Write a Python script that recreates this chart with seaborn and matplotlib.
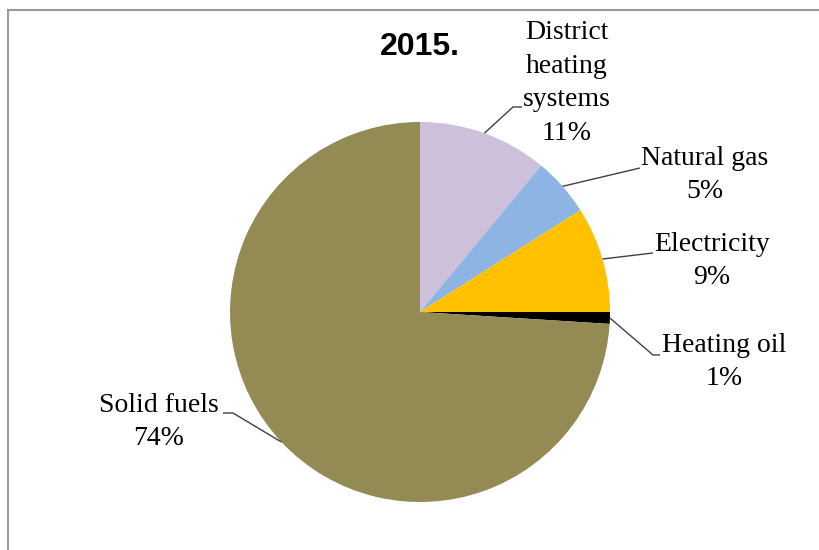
import numpy as np
import matplotlib
matplotlib.use("Agg")
import matplotlib.pyplot as plt
from matplotlib.lines import Line2D
import seaborn as sns

# data
categories = ["District\nheating\nsystems", "Natural gas", "Electricity", "Heating oil", "Solid fuels"]
shares = [11, 5, 9, 1, 74]
colors = ["#CCC0DA", "#8EB4E3", "#FFC000", "#000000", "#948A54"]
title = "2015."

sns.set_theme(style="white")
plt.rcParams["font.family"] = ["Liberation Serif", "DejaVu Serif"]

W, H = 820, 550
fig = plt.figure(figsize=(W / 100, H / 100), dpi=100)
ax = fig.add_axes([0, 0, 1, 1])

cx, cy, R = 420, H - 312, 190
wedges, _ = ax.pie(shares, colors=colors, startangle=90, counterclock=False,
                   center=(cx, cy), radius=R, frame=True,
                   wedgeprops=dict(linewidth=0))
ax.set_xlim(0, W)
ax.set_ylim(0, H)
ax.set_aspect("equal")
ax.axis("off")

# label layout: (text center x, text center y, elbow x, elbow y, end x) in pixels
layout = [
    (567, 83, 513, 107, 522),
    (705, 175, 640, 168, 640),
    (712, 261, 653, 253, 653),
    (724, 362, 653, 355, 660),
    (159, 422, 233, 413, 223),
]

for w, name, pct, (tx, ty, ex, ey, hx) in zip(wedges, categories, shares, layout):
    mid = np.deg2rad((w.theta1 + w.theta2) / 2)
    px, py = cx + R * np.cos(mid), cy + R * np.sin(mid)
    ax.plot([px, ex, hx], [py, H - ey, H - ey], color="#404040", lw=1.0,
            solid_capstyle="butt")
    ax.text(tx, H - ty, f"{name}\n{pct}%", ha="center", va="center",
            fontsize=20, linespacing=1.45, color="black")

ax.text(420, H - 47, title, ha="center", va="center", fontsize=23,
        fontweight="bold", color="black", family=["Liberation Sans", "DejaVu Sans"])

# chart frame (top and left edges visible)
fig.add_artist(Line2D([8 / W, 1], [1 - 10 / H, 1 - 10 / H], color="#9a9a9a", lw=1.5))
fig.add_artist(Line2D([8 / W, 8 / W], [0, 1 - 10 / H], color="#9a9a9a", lw=1.5))

fig.savefig("out.png", dpi=100)
